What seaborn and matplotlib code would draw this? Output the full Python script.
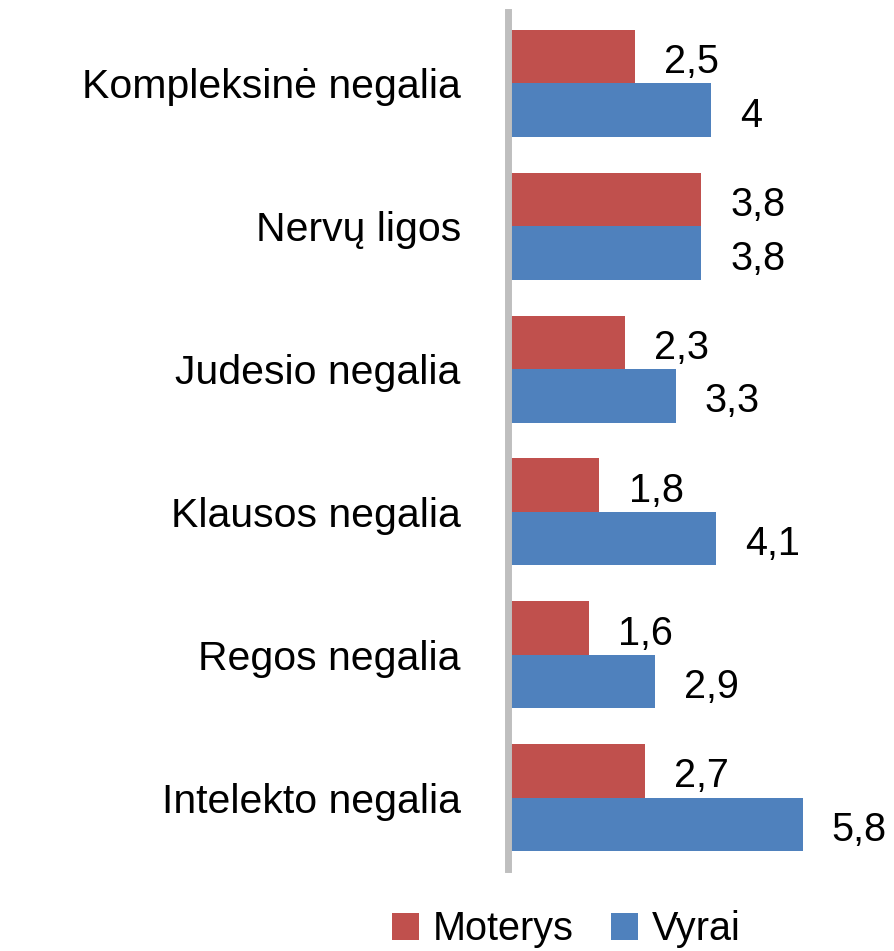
import matplotlib
matplotlib.use("Agg")
import matplotlib.pyplot as plt
import seaborn as sns
import pandas as pd

categories = ["Kompleksinė negalia", "Nervų ligos", "Judesio negalia",
              "Klausos negalia", "Regos negalia", "Intelekto negalia"]
moterys = [2.5, 3.8, 2.3, 1.8, 1.6, 2.7]
vyrai = [4.0, 3.8, 3.3, 4.1, 2.9, 5.8]
series_names = ["Moterys", "Vyrai"]
colors = ["#C0504D", "#4F81BD"]

df = pd.DataFrame({
    "cat": categories * 2,
    "series": [series_names[0]] * len(categories) + [series_names[1]] * len(categories),
    "value": moterys + vyrai,
})

sns.set_style("white")
plt.rcParams["font.family"] = ["Liberation Sans", "DejaVu Sans"]
plt.rcParams["text.color"] = "black"
plt.rcParams["ytick.color"] = "black"
plt.rcParams["ytick.labelcolor"] = "black"

W, H = 894, 951
fig = plt.figure(figsize=(W / 100, H / 100), dpi=100)
x0 = 508
ax = fig.add_axes([x0 / W, 1 - 869 / H, 1 - x0 / W, (869 - 12) / H])

sns.barplot(data=df, y="cat", x="value", hue="series", orient="h",
            palette=colors, width=0.75, ax=ax, saturation=1,
            edgecolor="none", linewidth=0, legend=True)

ax.set_xlim(0, (W - x0) / 50.8)
ax.set_ylim(5.5, -0.5)
ax.set_xlabel("")
ax.set_ylabel("")
ax.set_xticks([])
ax.tick_params(axis="y", length=0, pad=34, labelsize=29.5, labelcolor="black")
for s in ["top", "right", "bottom"]:
    ax.spines[s].set_visible(False)
ax.spines["left"].set_color("#BFBFBF")
ax.spines["left"].set_linewidth(5)

def fmt(v):
    return f"{v:g}".replace(".", ",")

for cont, vals in zip(ax.containers, [moterys, vyrai]):
    anns = ax.bar_label(cont, labels=[fmt(v) for v in vals], padding=21,
                        fontsize=28.5, color="black")
    for a in anns:
        a.xyann = (21, -4)

handles, labels = ax.get_legend_handles_labels()
ax.get_legend().remove()
fig.legend(handles, labels, loc="center", bbox_to_anchor=(566 / W, 1 - 929 / H),
           ncol=2, frameon=False, fontsize=28.5, handlelength=0.68, handleheight=0.68,
           handletextpad=0.35, columnspacing=0.95, borderpad=0, borderaxespad=0)

fig.savefig("out.png", dpi=100)
